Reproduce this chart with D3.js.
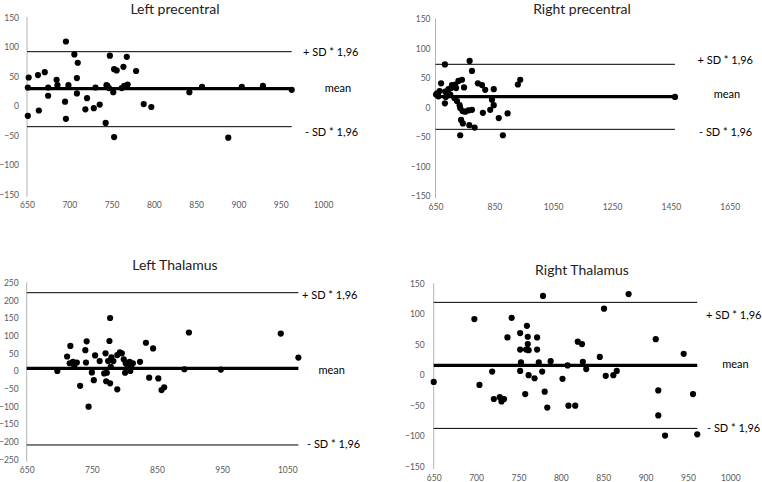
<!DOCTYPE html>
<html>
<head>
<meta charset="utf-8">
<script src="https://cdn.jsdelivr.net/npm/d3@7"></script>
<style>
  html, body { margin: 0; padding: 0; background: #fff; }
  svg { display: block; }
  .tick text { font-family: Lato, "Open Sans", sans-serif; font-size: 8.5px; fill: #595959; }
</style>
</head>
<body>
<svg id="chart" width="762" height="482"></svg>
<script>
// ---------- DATA ----------
const titles = ["Left precentral", "Right precentral", "Left Thalamus", "Right Thalamus"];
const limitLabels = ["+ SD * 1,96", "mean", "- SD * 1,96"];

// Left precentral
const leftPrecentralX = [652,651,651,663,671,664,675,675,685,686,696,695,696,699,706,709,710,709,721,719,729,731,736,743,744,745,748,747,753,756,752,753,762,764,765,768,769,779,788,797,842,857,888,904,929,963];
const leftPrecentralY = [48,31,-17,52,57,-8,31,17,44,35,109,7,-22,35,87,47,73,21,13,-6,-4,31,2,-29,35,34,85,30,62,60,23,-53,30,66,34,83,36,59,3,-2,23,32,-54,32,34,27];
const leftPrecentralLimits = [91.7, 29, -35.4];
const leftPrecentralXTicks = [650,700,750,800,850,900,950,1000];
const leftPrecentralYTicks = [-150,-100,-50,0,50,100,150];

// Right precentral
const rightPrecentralX = [682,766,774,655,664,669,683,685,682,689,694,700,703,706,711,717,720,728,740,747,714,723,732,734,742,751,762,774,737,743,765,783,734,794,808,819,848,842,848,836,811,865,895,879,930,938,1464,652,660];
const rightPrecentralY = [73,79,62,24,28,41,27,18,7,27,31,22,33,38,35,39,33,45,47,34,16,11,4,-1,-6,-7,-5,-4,-21,-27,-30,-34,-47,41,38,30,31,13,4,-4,-9,-18,-10,-47,39,47,18,22,19];
const rightPrecentralLimits = [73.2, 18.4, -37];
const rightPrecentralXTicks = [650,850,1050,1250,1450,1650];
const rightPrecentralYTicks = [-150,-100,-50,0,50,100,150];

// Left Thalamus
const leftThalamusX = [697,717,712,716,721,724,723,727,732,741,742,740,745,750,753,755,762,769,773,771,772,775,777,778,778,779,780,783,789,789,793,796,799,801,802,805,808,809,810,813,824,833,844,838,852,861,857,892,899,948,1040,1067];
const leftThalamusY = [0,71,41,22,26,22,12,24,-42,24,84,59,-101,-4,-26,44,28,-7,-5,50,-29,28,85,150,-35,12,39,28,-52,45,53,50,33,-5,22,15,26,0,12,22,26,80,64,-19,-21,-46,-54,5,109,4,106,38];
const leftThalamusLimits = [221.7, 7.5, -209.4];
const leftThalamusXTicks = [650,750,850,950,1050];
const leftThalamusYTicks = [-250,-200,-150,-100,-50,0,50,100,150,200,250];

// Right Thalamus
const rightThalamusX = [650,698,704,719,721,728,730,733,737,742,752,752,752,753,758,759,760,761,761,762,762,769,772,772,774,778,779,781,784,788,802,808,809,817,820,825,826,830,846,880,851,853,862,866,912,945,915,956,915,923,961];
const rightThalamusY = [-11,92,-16,6,-39,-36,-43,-39,62,94,69,42,7,21,-31,42,81,63,51,41,0,-5,62,42,21,6,130,-27,-53,23,-6,16,-50,-50,55,51,22,10,30,133,109,-1,0,7,59,35,-25,-31,-66,-99,-97];
const rightThalamusLimits = [119.4, 16.1, -87.2];
const rightThalamusXTicks = [650,700,750,800,850,900,950,1000];
const rightThalamusYTicks = [-150,-100,-50,0,50,100,150];

// ---------- LAYOUT (positions only) ----------
const panels = [
  { xs: leftPrecentralX, ys: leftPrecentralY, limits: leftPrecentralLimits, xt: leftPrecentralXTicks, yt: leftPrecentralYTicks,
    xr: [27, 323], yr: [194.3, 17.3], gap: 8, title: [175, 14],
    labels: [[303, 51, "start"], [338, 87, "middle"], [305, 131, "start"]] },
  { xs: rightPrecentralX, ys: rightPrecentralY, limits: rightPrecentralLimits, xt: rightPrecentralXTicks, yt: rightPrecentralYTicks,
    xr: [435.5, 729.7], yr: [196, 19], gap: 5, title: [582, 14],
    labels: [[697.5, 59, "start"], [727, 93, "middle"], [699, 131, "start"]] },
  { xs: leftThalamusX, ys: leftThalamusY, limits: leftThalamusLimits, xt: leftThalamusXTicks, yt: leftThalamusYTicks,
    xr: [26.7, 287.3], yr: [459.3, 282.7], gap: 8, title: [175, 270],
    labels: [[302, 294, "start"], [331.7, 369, "middle"], [307, 443, "start"]] },
  { xs: rightThalamusX, ys: rightThalamusY, limits: rightThalamusLimits, xt: rightThalamusXTicks, yt: rightThalamusYTicks,
    xr: [433.7, 730.3], yr: [466.7, 283.7], gap: 9, title: [582, 275],
    labels: [[706, 314, "start"], [735.5, 363, "middle"], [707, 427, "start"]] }
];

const svg = d3.select("#chart");
const font = 'Lato, "Open Sans", sans-serif';

panels.forEach((p, i) => {
  const x = d3.scaleLinear().domain([p.xt[0], p.xt[p.xt.length - 1]]).range(p.xr);
  const y = d3.scaleLinear().domain([p.yt[0], p.yt[p.yt.length - 1]]).range(p.yr);
  const g = svg.append("g");

  // y axis
  const ya = g.append("g").attr("transform", `translate(${p.xr[0]},0)`)
    .call(d3.axisLeft(y).tickValues(p.yt).tickSize(0).tickPadding(p.gap).tickFormat(d3.format("d")));
  ya.select(".domain").attr("stroke", "#b3b3b3").attr("stroke-width", 1)
    .attr("d", `M0,${p.yr[1] - 0.5}V${p.yr[0] + 2.5}`);

  // x axis (labels only)
  const xa = g.append("g").attr("transform", `translate(0,${p.yr[0]})`)
    .call(d3.axisBottom(x).tickValues(p.xt).tickSize(0).tickPadding(8).tickFormat(d3.format("d")));
  xa.select(".domain").remove();

  // limit lines: from axis start to last measured point
  const xEnd = d3.max(p.xs);
  p.limits.forEach((v, k) => {
    g.append("line")
      .attr("x1", x(p.xt[0])).attr("x2", x(xEnd))
      .attr("y1", y(v)).attr("y2", y(v))
      .attr("stroke", "#000").attr("stroke-width", k === 1 ? 3.2 : 1);
  });

  // points
  g.selectAll("circle.pt").data(p.xs.map((v, k) => [v, p.ys[k]])).join("circle")
    .attr("class", "pt")
    .attr("cx", d => x(d[0])).attr("cy", d => y(d[1])).attr("r", 3.1).attr("fill", "#000");

  // limit labels
  p.labels.forEach((l, k) => {
    g.append("text").attr("x", l[0]).attr("y", l[1]).attr("text-anchor", l[2])
      .attr("dominant-baseline", "central")
      .attr("font-family", font).attr("font-size", 11).attr("fill", "#000")
      .text(limitLabels[k]);
  });

  // title
  g.append("text").attr("x", p.title[0]).attr("y", p.title[1]).attr("text-anchor", "middle")
    .attr("font-family", font).attr("font-size", 14).attr("fill", "#222")
    .text(titles[i]);
});
</script>
</body>
</html>
